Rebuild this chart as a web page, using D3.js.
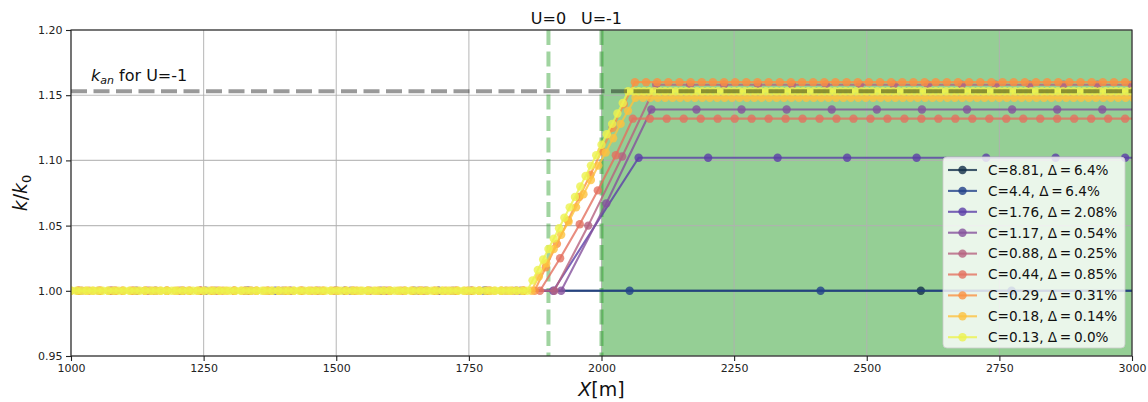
<!DOCTYPE html>
<html>
<head>
<meta charset="utf-8">
<script src="https://cdn.jsdelivr.net/npm/d3@7"></script>
<style>
  body { margin: 0; background: #fff; }
  text { font-family: "DejaVu Sans", sans-serif; }
</style>
</head>
<body>
<div id="renderDiv"></div>
<script>
// ---- data ----
const seriesLabels = ["C=8.81, Δ\u2009=\u20096.4%", "C=4.4, Δ\u2009=\u20096.4%", "C=1.76, Δ\u2009=\u20092.08%",
    "C=1.17, Δ\u2009=\u20090.54%", "C=0.88, Δ\u2009=\u20090.25%", "C=0.44, Δ\u2009=\u20090.85%",
    "C=0.29, Δ\u2009=\u20090.31%", "C=0.18, Δ\u2009=\u20090.14%", "C=0.13, Δ\u2009=\u20090.0%"];
const seriesColors = ["#13304a", "#22418a", "#5b3fa8", "#85519c", "#b5627f", "#e4705f", "#fa9142", "#fcc23f", "#ecf24e"];

const lowLevel = 1.0;
// upper shelf of each run
const highLevel = [1.0, 1.0, 1.102, 1.139, 1.158, 1.132, 1.160, 1.148, 1.153];

// sample positions on the k/k0 = 1 shelf
const lowX = [
    [959, 1781, 2602, 3424],
    [973, 1333, 1693, 2053, 2413, 2773, 3133],
    [992, 1123, 1254, 1385, 1516, 1647, 1778, 1909],
    [989, 1074, 1159, 1244, 1329, 1414, 1499, 1584, 1669, 1754, 1839, 1924],
    [951, 1015, 1079, 1143, 1207, 1271, 1335, 1399, 1463, 1527, 1591, 1655, 1719, 1783, 1847, 1911],
    [988, 1020, 1052, 1084, 1116, 1148, 1180, 1212, 1244, 1276, 1308, 1340, 1372, 1404, 1436, 1468, 1500,
        1532, 1564, 1596, 1628, 1660, 1692, 1724, 1756, 1788, 1820, 1852, 1884],
    [992, 1013, 1034, 1055, 1076, 1097, 1118, 1139, 1160, 1181, 1202, 1223, 1244, 1265, 1286, 1307, 1328,
        1349, 1370, 1391, 1412, 1433, 1454, 1475, 1496, 1517, 1538, 1559, 1580, 1601, 1622, 1643, 1664,
        1685, 1706, 1727, 1748, 1769, 1790, 1811, 1832, 1853, 1874],
    [1000, 1014, 1028, 1042, 1056, 1070, 1084, 1098, 1112, 1126, 1140, 1154, 1168, 1182, 1196, 1210, 1224,
        1238, 1252, 1266, 1280, 1294, 1308, 1322, 1336, 1350, 1364, 1378, 1392, 1406, 1420, 1434, 1448,
        1462, 1476, 1490, 1504, 1518, 1532, 1546, 1560, 1574, 1588, 1602, 1616, 1630, 1644, 1658, 1672,
        1686, 1700, 1714, 1728, 1742, 1756, 1770, 1784, 1798, 1812, 1826, 1840, 1854, 1868],
    [1000, 1010, 1020, 1030, 1040, 1050, 1060, 1070, 1080, 1090, 1100, 1110, 1120, 1130, 1140, 1150, 1160,
        1170, 1180, 1190, 1200, 1210, 1220, 1230, 1240, 1250, 1260, 1270, 1280, 1290, 1300, 1310, 1320,
        1330, 1340, 1350, 1360, 1370, 1380, 1390, 1400, 1410, 1420, 1430, 1440, 1450, 1460, 1470, 1480,
        1490, 1500, 1510, 1520, 1530, 1540, 1550, 1560, 1570, 1580, 1590, 1600, 1610, 1620, 1630, 1640,
        1650, 1660, 1670, 1680, 1690, 1700, 1710, 1720, 1730, 1740, 1750, 1760, 1770, 1780, 1790, 1800,
        1810, 1820, 1830, 1840, 1850, 1860]
];

// samples on the rising front
const rampX = [
    [], [], [], [2009], [1975, 2039], [1922, 1959, 1993, 2027],
    [1895, 1916, 1937, 1958, 1979, 2000, 2021, 2042],
    [1882, 1896, 1910, 1924, 1938, 1952, 1966, 1980, 1994, 2008, 2022, 2036, 2050],
    [1870, 1880, 1890, 1900, 1910, 1920, 1930, 1940, 1950, 1960, 1970, 1980, 1990, 2000, 2010, 2020, 2030, 2040]
];
const rampY = [
    [], [], [], [1.067], [1.05, 1.103], [1.025, 1.051, 1.077, 1.104],
    [1.018, 1.036, 1.054, 1.072, 1.089, 1.107, 1.125, 1.143],
    [1.011, 1.021, 1.032, 1.043, 1.053, 1.064, 1.074, 1.085, 1.096, 1.106, 1.117, 1.128, 1.138],
    [1.008, 1.016, 1.024, 1.032, 1.040, 1.048, 1.056, 1.064, 1.072, 1.080, 1.088, 1.096, 1.104, 1.112,
        1.120, 1.128, 1.136, 1.144]
];

// sample positions on the upper shelf
const highX = [
    [], [],
    [2070, 2201, 2332, 2463, 2594, 2725, 2856, 2987, 3118],
    [2094, 2179, 2264, 2349, 2434, 2519, 2604, 2689, 2774, 2859, 2944, 3029],
    [2103, 2167, 2231, 2295, 2359, 2423, 2487, 2551, 2615, 2679, 2743, 2807, 2871, 2935, 2999, 3063],
    [2059, 2091, 2123, 2155, 2187, 2219, 2251, 2283, 2315, 2347, 2379, 2411, 2443, 2475, 2507, 2539, 2571,
        2603, 2635, 2667, 2699, 2731, 2763, 2795, 2827, 2859, 2891, 2923, 2955, 2987, 3019],
    [2063, 2084, 2105, 2126, 2147, 2168, 2189, 2210, 2231, 2252, 2273, 2294, 2315, 2336, 2357, 2378, 2399,
        2420, 2441, 2462, 2483, 2504, 2525, 2546, 2567, 2588, 2609, 2630, 2651, 2672, 2693, 2714, 2735,
        2756, 2777, 2798, 2819, 2840, 2861, 2882, 2903, 2924, 2945, 2966, 2987, 3008],
    [2064, 2078, 2092, 2106, 2120, 2134, 2148, 2162, 2176, 2190, 2204, 2218, 2232, 2246, 2260, 2274, 2288,
        2302, 2316, 2330, 2344, 2358, 2372, 2386, 2400, 2414, 2428, 2442, 2456, 2470, 2484, 2498, 2512,
        2526, 2540, 2554, 2568, 2582, 2596, 2610, 2624, 2638, 2652, 2666, 2680, 2694, 2708, 2722, 2736,
        2750, 2764, 2778, 2792, 2806, 2820, 2834, 2848, 2862, 2876, 2890, 2904, 2918, 2932, 2946, 2960,
        2974, 2988, 3002],
    [2050, 2060, 2070, 2080, 2090, 2100, 2110, 2120, 2130, 2140, 2150, 2160, 2170, 2180, 2190, 2200, 2210,
        2220, 2230, 2240, 2250, 2260, 2270, 2280, 2290, 2300, 2310, 2320, 2330, 2340, 2350, 2360, 2370,
        2380, 2390, 2400, 2410, 2420, 2430, 2440, 2450, 2460, 2470, 2480, 2490, 2500, 2510, 2520, 2530,
        2540, 2550, 2560, 2570, 2580, 2590, 2600, 2610, 2620, 2630, 2640, 2650, 2660, 2670, 2680, 2690,
        2700, 2710, 2720, 2730, 2740, 2750, 2760, 2770, 2780, 2790, 2800, 2810, 2820, 2830, 2840, 2850,
        2860, 2870, 2880, 2890, 2900, 2910, 2920, 2930, 2940, 2950, 2960, 2970, 2980, 2990, 3000]
];

const kanLevel = 1.153;
const switchX = [1900, 2000];
const switchLabels = ["U=0", "U=-1"];
const greenSpan = [2000, 3000];
const xTicks = [1000, 1250, 1500, 1750, 2000, 2250, 2500, 2750, 3000];
const yTicks = [0.95, 1.00, 1.05, 1.10, 1.15, 1.20];

// ---- layout ----
const SVGWIDTH = 1148, SVGHEIGHT = 402;
const svg_margin = { left: 71, right: 16, top: 30, bottom: 46 };
const plotW = SVGWIDTH - svg_margin.left - svg_margin.right,
    plotH = SVGHEIGHT - svg_margin.top - svg_margin.bottom;

const svg = d3.select("#renderDiv").append("svg")
    .attr("width", SVGWIDTH).attr("height", SVGHEIGHT);
const g = svg.append("g")
    .attr("transform", "translate(" + svg_margin.left + "," + svg_margin.top + ")");

const xScale = d3.scaleLinear().domain([1000, 3000]).range([0, plotW]);
const yScale = d3.scaleLinear().domain([0.95, 1.20]).range([plotH, 0]);

svg.append("defs").append("clipPath").attr("id", "plotClip")
    .append("rect").attr("width", plotW).attr("height", plotH);

// shaded U=-1 region
g.append("rect")
    .attr("x", xScale(greenSpan[0])).attr("y", 0)
    .attr("width", xScale(greenSpan[1]) - xScale(greenSpan[0])).attr("height", plotH)
    .attr("fill", "#2ca02c").attr("fill-opacity", 0.5);

// grid
g.append("g").selectAll("line").data(xTicks).enter().append("line")
    .attr("x1", d => xScale(d)).attr("x2", d => xScale(d)).attr("y1", 0).attr("y2", plotH)
    .attr("stroke", "#b0b0b0").attr("stroke-width", 1.1).attr("stroke-opacity", 0.85);
g.append("g").selectAll("line").data(yTicks).enter().append("line")
    .attr("y1", d => yScale(d)).attr("y2", d => yScale(d)).attr("x1", 0).attr("x2", plotW)
    .attr("stroke", "#b0b0b0").attr("stroke-width", 1.1).attr("stroke-opacity", 0.85);

// switch markers
g.append("g").selectAll("line").data(switchX).enter().append("line")
    .attr("x1", d => xScale(d)).attr("x2", d => xScale(d)).attr("y1", 0).attr("y2", plotH)
    .attr("stroke", "#2ca02c").attr("stroke-width", 4)
    .attr("stroke-opacity", (d, i) => i === 0 ? 0.45 : 0.5)
    .attr("stroke-dasharray", "15,6.5");

// runs
const lineGen = d3.line().x(d => xScale(d[0])).y(d => yScale(d[1]));
const runs = g.append("g").attr("clip-path", "url(#plotClip)");
seriesLabels.forEach(function (label, i) {
    let pts = lowX[i].map(x => [x, lowLevel])
        .concat(rampX[i].map((x, j) => [x, rampY[i][j]]))
        .concat(highX[i].map(x => [x, highLevel[i]]));
    let run = runs.append("g");
    run.append("path").datum(pts)
        .attr("d", lineGen)
        .attr("fill", "none")
        .attr("stroke", seriesColors[i]).attr("stroke-width", 2.1).attr("stroke-opacity", 0.8);
    run.selectAll("circle").data(pts).enter().append("circle")
        .attr("cx", d => xScale(d[0])).attr("cy", d => yScale(d[1]))
        .attr("r", 4.2)
        .attr("fill", seriesColors[i]).attr("fill-opacity", 0.8);
});

// k_an reference line
g.append("line")
    .attr("x1", 0).attr("x2", plotW).attr("y1", yScale(kanLevel)).attr("y2", yScale(kanLevel))
    .attr("stroke", "#000").attr("stroke-opacity", 0.4).attr("stroke-width", 4)
    .attr("stroke-dasharray", "16,6.5");

let kanText = g.append("text").attr("x", 20).attr("y", yScale(kanLevel) - 10)
    .attr("font-size", "16px").attr("fill", "#111");
kanText.append("tspan").attr("font-style", "italic").text("k");
kanText.append("tspan").attr("font-style", "italic").attr("font-size", "11px").attr("dy", 3).text("an");
kanText.append("tspan").attr("dy", -3).text(" for U=-1");

// labels above the switch lines
g.append("g").selectAll("text").data(switchX).enter().append("text")
    .attr("x", d => xScale(d)).attr("y", -6)
    .attr("text-anchor", "middle").attr("font-size", "16px").attr("fill", "#111")
    .text((d, i) => switchLabels[i]);

// axes
let xAxis = g.append("g").attr("transform", "translate(0," + plotH + ")")
    .call(d3.axisBottom(xScale).tickValues(xTicks).tickSize(5).tickPadding(3.5).tickFormat(d3.format("d")));
let yAxis = g.append("g")
    .call(d3.axisLeft(yScale).tickValues(yTicks).tickSize(5).tickPadding(3.5).tickFormat(d3.format(".2f")));
[xAxis, yAxis].forEach(function (ax) {
    ax.select(".domain").remove();
    ax.selectAll(".tick line").attr("stroke", "#222").attr("stroke-width", 1.1);
    ax.selectAll(".tick text").attr("font-size", "11px").attr("fill", "#222")
        .attr("font-family", "DejaVu Sans, sans-serif");
});

// spines
g.append("rect").attr("width", plotW).attr("height", plotH)
    .attr("fill", "none").attr("stroke", "#222").attr("stroke-width", 1.1);

// axis labels
let xl = svg.append("text").attr("x", svg_margin.left + xScale(2000)).attr("y", 396)
    .attr("text-anchor", "middle").attr("font-size", "19px").attr("fill", "#111");
xl.append("tspan").attr("font-style", "italic").text("X");
xl.append("tspan").text("[m]");

let yl = svg.append("text").attr("transform", "translate(27," + (svg_margin.top + plotH / 2) + ") rotate(-90)")
    .attr("text-anchor", "middle").attr("font-size", "19px").attr("fill", "#111");
yl.append("tspan").attr("font-style", "italic").text("k");
yl.append("tspan").text("/");
yl.append("tspan").attr("font-style", "italic").text("k");
yl.append("tspan").attr("font-size", "13px").attr("dy", 4).text("0");

// legend
const legX = 943 - svg_margin.left, legY = 157 - svg_margin.top, rowH = 20.9;
let legend = g.append("g");
legend.append("rect")
    .attr("x", legX).attr("y", legY).attr("width", 182).attr("height", 191).attr("rx", 4)
    .attr("fill", "#fff").attr("fill-opacity", 0.8)
    .attr("stroke", "#ccc").attr("stroke-opacity", 0.8);
seriesLabels.forEach(function (label, i) {
    let cy = legY + 13 + rowH * i;
    legend.append("line")
        .attr("x1", legX + 5).attr("x2", legX + 34).attr("y1", cy).attr("y2", cy)
        .attr("stroke", seriesColors[i]).attr("stroke-width", 2.1).attr("stroke-opacity", 0.8);
    legend.append("circle").attr("cx", legX + 19.5).attr("cy", cy).attr("r", 4.2)
        .attr("fill", seriesColors[i]).attr("fill-opacity", 0.8);
    legend.append("text").attr("x", legX + 45).attr("y", cy).attr("dy", "0.36em")
        .attr("font-size", "13.6px").attr("fill", "#111").text(label);
});
</script>
</body>
</html>
